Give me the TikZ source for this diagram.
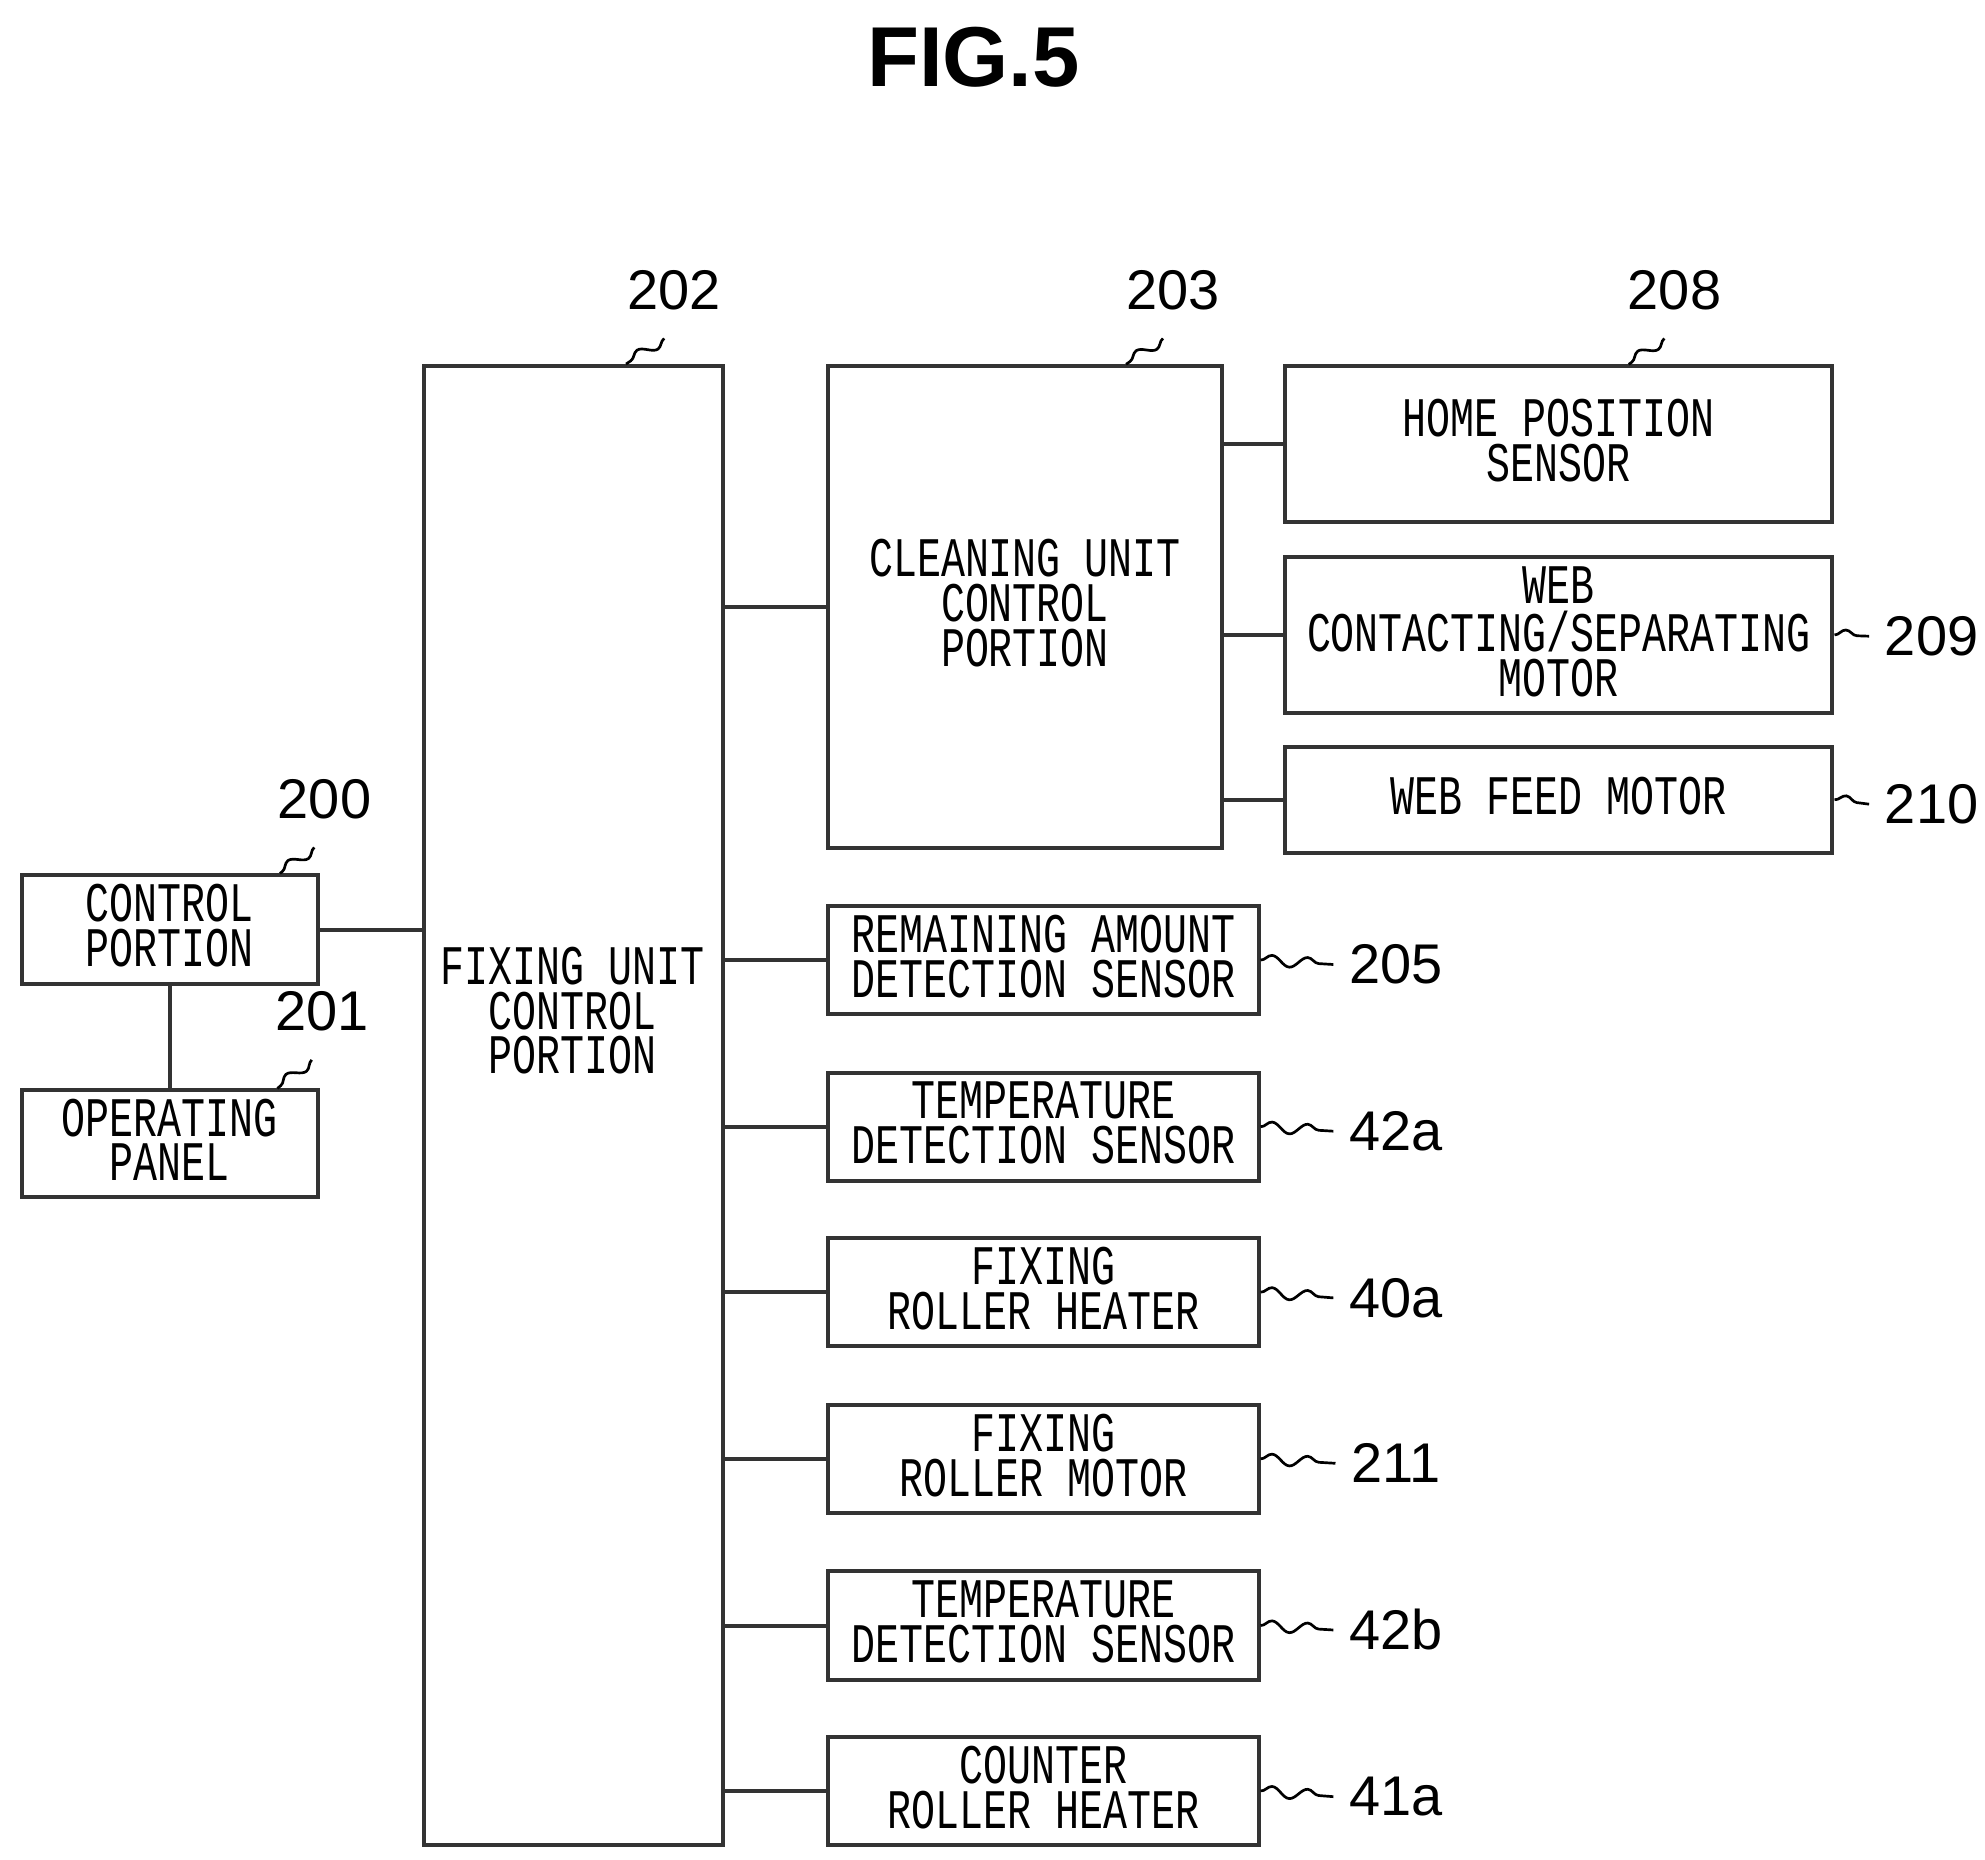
\documentclass[tikz,border=0pt]{standalone}
\usepackage{fontspec}
\setmainfont{Liberation Sans}
\newfontfamily\boxfont{Liberation Mono}
\usetikzlibrary{positioning, calc, decorations.pathmorphing}
\newcommand{\tallcaps}[1]{\scalebox{0.93}[1.3]{\renewcommand{\arraystretch}{0.62}\fontsize{9.6}{7}\selectfont\boxfont\begin{tabular}{@{}c@{}}#1\end{tabular}}}
\tikzset{
    blk/.style={draw=black!80, line width=0.9pt, inner sep=0pt},
    lbl/.style={font=\fontsize{12.5}{14}\selectfont},
    lead/.style={line width=0.6pt, decorate, decoration={snake, amplitude=1.2pt, segment length=8pt}},
    link/.style={line width=0.9pt, draw=black!80}
}
\begin{document}
\begin{tikzpicture}[x=0.01cm, y=-0.01cm]
        \useasboundingbox (0,0) rectangle (1560,1461);

        % Title
        \node[font=\fontsize{19}{22}\selectfont\bfseries] (title) at (765,45) {FIG.5};

        % Main blocks
        \node[blk, minimum width=2.35cm, minimum height=11.62cm] (fix) at (450.5,869) {};
        \node (fixtxt) at (450,797) {\tallcaps{FIXING UNIT\\CONTROL\\PORTION}};
        \node[blk, minimum width=3.09cm, minimum height=3.78cm] (clean) at (805.5,477) {\tallcaps{CLEANING UNIT\\CONTROL\\PORTION}};
        \node[blk, minimum width=2.33cm, minimum height=0.85cm] (ctrl) at (133.5,730.5) {\tallcaps{CONTROL\\PORTION}};
        \node[blk, minimum width=2.33cm, minimum height=0.84cm] (oper) at (133.5,899) {\tallcaps{OPERATING\\PANEL}};

        % Cleaning unit blocks
        \node[blk, minimum width=4.3cm, minimum height=1.22cm] (home) at (1225,349) {\tallcaps{HOME POSITION\\SENSOR}};
        \node[blk, minimum width=4.3cm, minimum height=1.22cm] (webcs) at (1225,499) {\tallcaps{WEB\\CONTACTING/SEPARATING\\MOTOR}};
        \node[blk, minimum width=4.3cm, minimum height=0.83cm] (webfeed) at (1225,628.5) {\tallcaps{WEB FEED MOTOR}};

        % Fixing unit blocks
        \foreach \n/\y/\t in {remain/754.5/{REMAINING AMOUNT\\DETECTION SENSOR},
                              tempa/885.5/{TEMPERATURE\\DETECTION SENSOR},
                              heata/1015.5/{FIXING\\ROLLER HEATER},
                              motor/1146.5/{FIXING\\ROLLER MOTOR},
                              tempb/1277.5/{TEMPERATURE\\DETECTION SENSOR},
                              heatb/1407.5/{COUNTER\\ROLLER HEATER}} {
            \node[blk, minimum width=3.38cm, minimum height=0.85cm] (\n) at (820,\y) {\tallcaps{\t}};
            \draw[link] (\n.west) -- (\n.west -| fix.east);
        }

        % Connectors
        \draw[link] (ctrl.east) -- (ctrl.east -| fix.west);
        \draw[link] (ctrl.south) -- (oper.north);
        \draw[link] (fix.east |- clean.west) -- (clean.west);
        \foreach \n in {home, webcs, webfeed} {
            \draw[link] (\n.west) -- (\n.west -| clean.east);
        }

        % Reference numerals
        \node[lbl] (n202) at (530,228) {202};
        \node[lbl] (n203) at (922,228) {203};
        \node[lbl] (n208) at (1316,228) {208};
        \node[lbl] (n200) at (255,628) {200};
        \node[lbl] (n201) at (253,795) {201};
        \node[lbl] (n209) at (1518,500) {209};
        \node[lbl] (n210) at (1518,632) {210};
        \node[lbl] (n205) at (1097,758) {205};
        \node[lbl] (n42a) at (1097,889) {42a};
        \node[lbl] (n40a) at (1097,1020) {40a};
        \node[lbl] (n211) at (1097,1150) {211};
        \node[lbl] (n42b) at (1097,1281) {42b};
        \node[lbl] (n41a) at (1097,1412) {41a};

        % Leaders
        \draw[lead] ($(n202.south)+(-8,10)$) -- (fix.north -| 492,0);
        \draw[lead] ($(n203.south)+(-8,10)$) -- (clean.north -| 885,0);
        \draw[lead] ($(n208.south)+(-8,10)$) -- (home.north -| 1280,0);
        \draw[lead] ($(n200.south)+(-8,10)$) -- (ctrl.north -| 220,0);
        \draw[lead] ($(n201.south)+(-8,10)$) -- (oper.north -| 218,0);
        \draw[lead] (webcs.east) -- (n209.west);
        \draw[lead] (webfeed.east) -- (n210.west);
        \foreach \n/\m in {remain/n205, tempa/n42a, heata/n40a, motor/n211, tempb/n42b, heatb/n41a} {
            \draw[lead] (\n.east) -- (\m.west);
        }
    \end{tikzpicture}
\end{document}
